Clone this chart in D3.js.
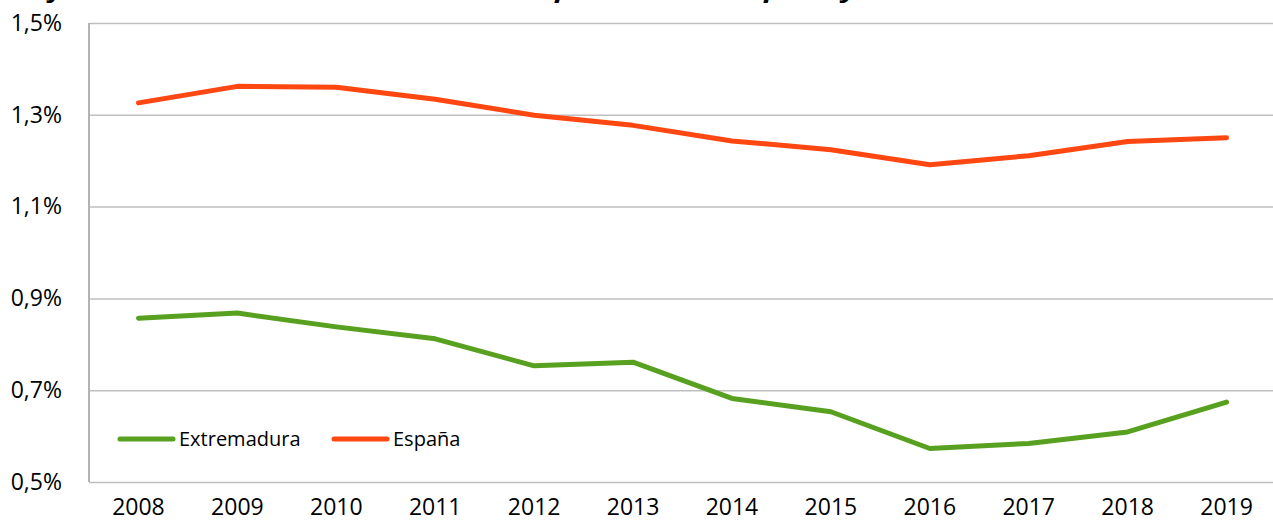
<!DOCTYPE html>
<html>
<head>
<meta charset="utf-8">
<script src="https://cdn.jsdelivr.net/npm/d3@7"></script>
<style>
  body { margin: 0; background: #fff; }
  svg { display: block; font-family: "Open Sans", sans-serif; }
</style>
</head>
<body>
<div id="chart"></div>
<script>
// Gasto en I+D sobre PIB (%)
const years = ["2008", "2009", "2010", "2011", "2012", "2013", "2014", "2015", "2016", "2017", "2018", "2019"];
const extremadura = [0.857, 0.868, 0.838, 0.812, 0.753, 0.761, 0.682, 0.653, 0.573, 0.584, 0.609, 0.674];
const espana = [1.326, 1.362, 1.360, 1.334, 1.299, 1.277, 1.243, 1.224, 1.191, 1.211, 1.242, 1.250];
const yTicks = [0.5, 0.7, 0.9, 1.1, 1.3, 1.5];
const titleText = "Gráfico 5. Evolución del Gasto en I+D respecto al PIB. España y Extremadura";

const series = [
  { name: "Extremadura", values: extremadura, color: "#58A01F" },
  { name: "España", values: espana, color: "#FF4712" }
];

const margin = { top: 23, right: 0, bottom: 45, left: 89 },
      width = 1187,
      height = 459;

const root = d3.select("#chart")
  .append("svg")
  .attr("width", 1273)
  .attr("height", 527);

// title, mostly cut off by the top edge (as in the source image)
root.append("text")
  .attr("x", 0)
  .attr("y", -2)
  .attr("textLength", 1045)
  .attr("lengthAdjust", "spacingAndGlyphs")
  .style("font-size", "22px")
  .style("font-weight", "bold")
  .style("font-style", "italic")
  .text(titleText);

const svg = root.append("g")
  .attr("transform", `translate(${margin.left},${margin.top})`);

const x = d3.scaleBand().domain(years).range([0, width]);
const y = d3.scaleLinear().domain([0.5, 1.5]).range([height, 0]);

const fmt = d => d.toFixed(1).replace(".", ",") + "%";

// gridlines + y labels
const yAxis = svg.append("g")
  .call(d3.axisLeft(y).tickValues(yTicks).tickSize(-width).tickFormat(fmt).tickPadding(27));
yAxis.select(".domain").remove();
yAxis.selectAll(".tick line").attr("stroke", "#BFBFBF").attr("stroke-width", 1.5);
yAxis.selectAll(".tick text")
  .attr("fill", "#000")
  .style("font-size", "23px")
  .style("font-family", "'Open Sans', sans-serif");

// x labels
const xAxis = svg.append("g")
  .attr("transform", `translate(0,${height})`)
  .call(d3.axisBottom(x).tickSize(0).tickPadding(17));
xAxis.select(".domain").remove();
xAxis.selectAll(".tick text")
  .attr("fill", "#000")
  .style("font-size", "23px")
  .style("font-family", "'Open Sans', sans-serif");

// left axis line
svg.append("line")
  .attr("x1", 0).attr("x2", 0)
  .attr("y1", 0).attr("y2", height)
  .attr("stroke", "#B3B3B3")
  .attr("stroke-width", 2);

const line = d3.line()
  .x((d, i) => x(years[i]) + x.bandwidth() / 2)
  .y(d => y(d));

svg.selectAll(".serie")
  .data(series)
  .enter()
  .append("path")
  .attr("class", "serie")
  .attr("d", d => line(d.values))
  .attr("fill", "none")
  .attr("stroke", d => d.color)
  .attr("stroke-width", 5)
  .attr("stroke-linecap", "round")
  .attr("stroke-linejoin", "round");

// legend
const legendX = [120, 334];
const legend = svg.selectAll(".legend")
  .data(series)
  .enter()
  .append("g")
  .attr("transform", (d, i) => `translate(${legendX[i] - margin.left},${439 - margin.top})`);

legend.append("line")
  .attr("x1", 0).attr("x2", 53)
  .attr("stroke", d => d.color)
  .attr("stroke-width", 5)
  .attr("stroke-linecap", "round");

legend.append("text")
  .attr("x", 59)
  .attr("dy", "0.35em")
  .style("font-size", "20px")
  .text(d => d.name);
</script>
</body>
</html>
